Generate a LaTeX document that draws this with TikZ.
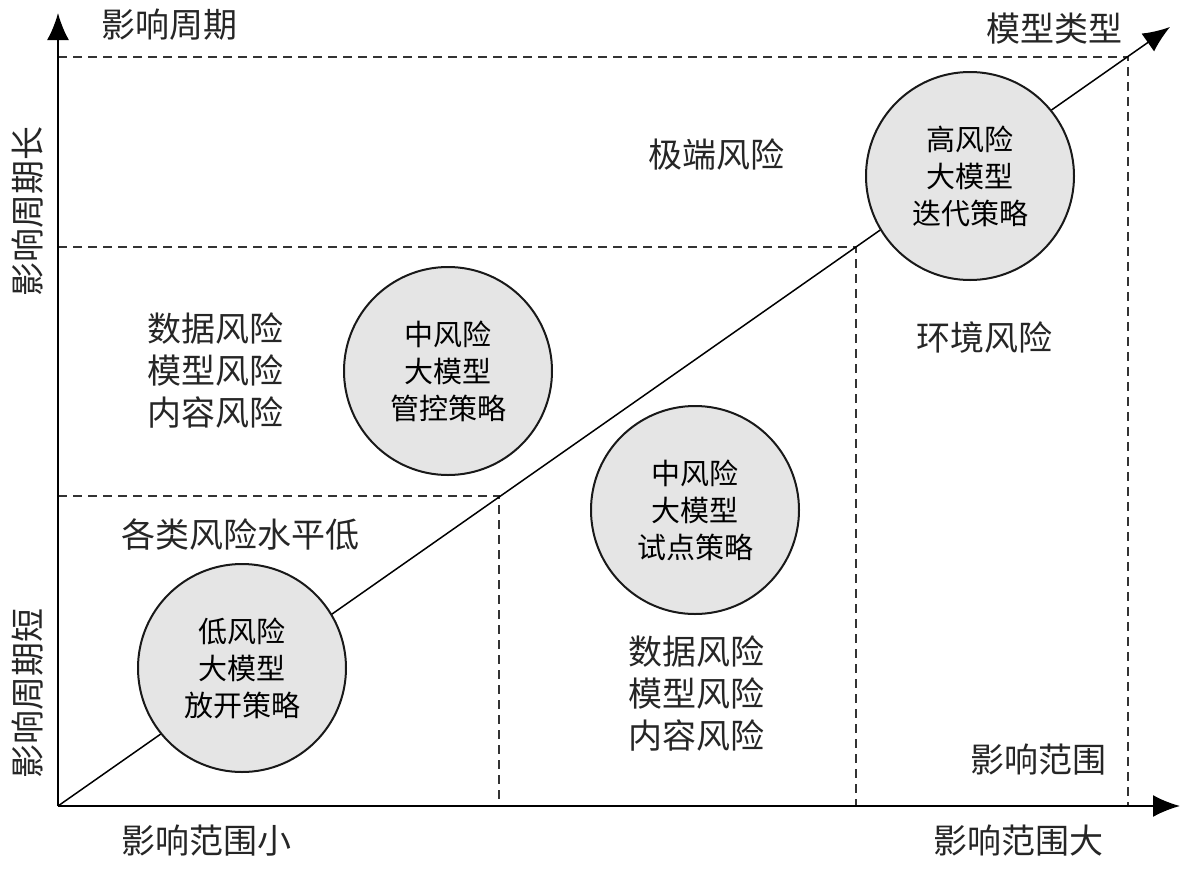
\documentclass[tikz,border=0pt]{standalone}
\usepackage{fontspec}
\setmainfont{Noto Sans CJK SC}
\usetikzlibrary{arrows.meta}

\begin{document}
\begin{tikzpicture}[x=1pt,y=-1pt,
    risk/.style={circle,draw=black!90,line width=2pt,fill=black!10,minimum size=208pt,inner sep=0pt,
      align=center,font=\fontsize{29}{37}\selectfont},
    lbl/.style={align=center,font=\fontsize{34}{42}\selectfont,text=black!85},
    grid/.style={dashed,dash pattern=on 9pt off 6pt,line width=1.4pt,black!80},
    axis/.style={line width=2pt,-{Latex[length=27pt,width=22pt]}}]
  \useasboundingbox (0,0) rectangle (1192,868);

  % axes
  \coordinate (o) at (58,806);
  \coordinate (ytip) at (58,13);
  \coordinate (xtip) at (1180,806);
  \coordinate (dtip) at (1170,27);
  \coordinate (c1) at (499,496);
  \coordinate (c2) at (856,247);
  \coordinate (c3) at (1128,57);

  \draw[grid] (o |- c1) -- (c1) -- (c1 |- o);
  \draw[grid] (o |- c2) -- (c2) -- (c2 |- o);
  \draw[grid] (o |- c3) -- (c3) -- (c3 |- o);

  \draw[axis] (o) -- (ytip);
  \draw[axis] (o) -- (xtip);
  \draw[axis,line width=1.5pt] (o) -- (dtip);

  % circles
  \node[risk] (low) at (242,668) {低风险\\大模型\\放开策略};
  \node[risk] (midA) at (448,371) {中风险\\大模型\\管控策略};
  \node[risk] (midB) at (695,510) {中风险\\大模型\\试点策略};
  \node[risk] (high) at (970,176) {高风险\\大模型\\迭代策略};

  % labels
  \node[lbl] (ylab) at (169,25) {影响周期};
  \node[lbl] (dlab) at (1054,29) {模型类型};
  \node[lbl,rotate=90] (ylong) at (28,211) {影响周期长};
  \node[lbl,rotate=90] (yshort) at (28,693) {影响周期短};
  \node[lbl] (xsmall) at (206,841) {影响范围小};
  \node[lbl] (xbig) at (1018,841) {影响范围大};
  \node[lbl] (xlab) at (1038,760) {影响范围};
  \node[lbl] (extreme) at (716,154) {极端风险};
  \node[lbl] (env) at (984,338) {环境风险};
  \node[lbl] (riskA) at (215,370) {数据风险\\模型风险\\内容风险};
  \node[lbl] (lowall) at (240,535) {各类风险水平低};
  \node[lbl] (riskB) at (696,693) {数据风险\\模型风险\\内容风险};
\end{tikzpicture}
\end{document}
